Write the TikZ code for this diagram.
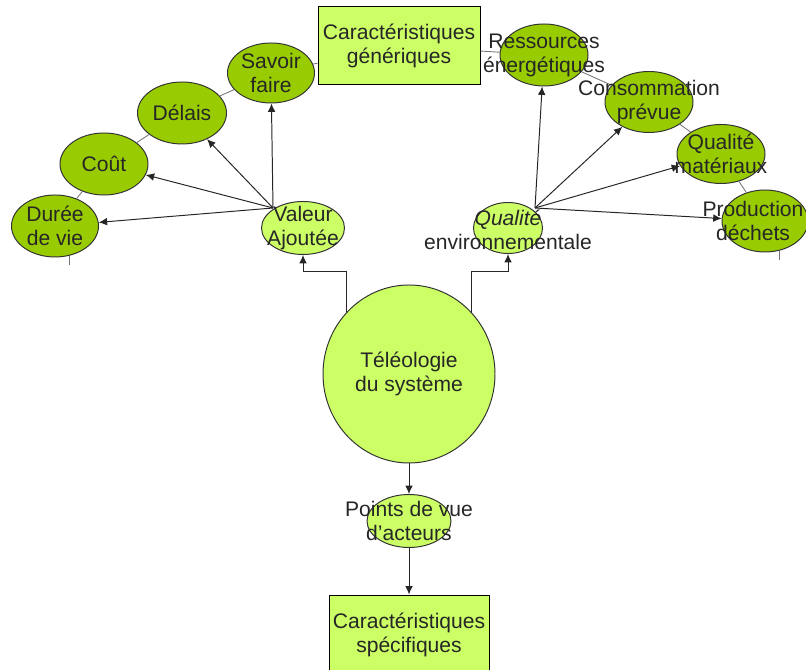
\documentclass[tikz,border=0pt]{standalone}
\usepackage{fontspec}
\setmainfont{Liberation Sans}
\usetikzlibrary{shapes.geometric,arrows.meta}
\definecolor{vertfonce}{HTML}{99CC00}
\definecolor{vertclair}{HTML}{CCFF66}
\definecolor{trait}{HTML}{333333}
\tikzset{
  ovale/.style={ellipse, draw=trait, line width=0.7pt, fill=vertfonce, inner sep=0pt},
  ovaleclair/.style={ovale, fill=vertclair},
  boite/.style={rectangle, draw=black, line width=0.7pt, fill=vertclair, inner sep=0pt},
  txt/.style={align=center, text=black!85, font=\fontsize{15}{17}\selectfont},
  lien/.style={draw=black!55, line width=0.6pt},
  fleche/.style={->, draw=black!85, line width=0.7pt}
}

\begin{document}
\begin{tikzpicture}[>={Latex[length=6pt,width=5.5pt]}]
    \useasboundingbox (0,0) rectangle (20.15cm,16.75cm);
    % formes
    \node[boite, minimum width=4.05cm, minimum height=1.95cm] (gen) at (9.975cm,15.6cm) {};
    \node[ovale, minimum width=2.175cm, minimum height=1.5cm] (savoir) at (6.775cm,14.925cm) {};
    \node[ovale, minimum width=2.225cm, minimum height=1.55cm] (delais) at (4.55cm,13.925cm) {};
    \node[ovale, minimum width=2.2cm, minimum height=1.55cm] (cout) at (2.6cm,12.65cm) {};
    \node[ovale, minimum width=2.175cm, minimum height=1.55cm] (duree) at (1.375cm,11.1cm) {};
    \node[ovaleclair, minimum width=2.075cm, minimum height=1.325cm] (valeur) at (7.575cm,11.05cm) {};
    \node[ovale, minimum width=2.2cm, minimum height=1.55cm] (ress) at (13.6cm,15.375cm) {};
    \node[ovale, minimum width=2.2cm, minimum height=1.525cm] (conso) at (16.225cm,14.2cm) {};
    \node[ovale, minimum width=2.2cm, minimum height=1.475cm] (qualmat) at (18.025cm,12.9cm) {};
    \node[ovale, minimum width=2.15cm, minimum height=1.55cm] (prod) at (19.125cm,11.225cm) {};
    \node[ovaleclair, minimum width=1.725cm, minimum height=1.275cm] (qualenv) at (12.7cm,11.05cm) {};
    \node[ovaleclair, minimum width=4.3cm, minimum height=4.45cm] (teleo) at (10.225cm,7.4cm) {};
    \node[ovaleclair, minimum width=2.1cm, minimum height=1.325cm] (points) at (10.225cm,3.725cm) {};
    \node[boite, minimum width=4cm, minimum height=2cm] (spec) at (10.225cm,0.875cm) {};

    % liens gris
    \draw[lien] (gen) -- (savoir);
    \draw[lien] (savoir) -- (delais);
    \draw[lien] (delais) -- (cout);
    \draw[lien] (cout) -- (duree);
    \draw[lien] (gen) -- (ress);
    \draw[lien] (ress) -- (conso);
    \draw[lien] (conso) -- (qualmat);
    \draw[lien] (qualmat) -- (prod);
    \draw[lien] (duree.-65) -- ++(0,-0.22cm);
    \draw[lien] (prod.-65) -- ++(0,-0.22cm);

    % fleches
    \coordinate (vahub) at (6.825cm,11.55cm);
    \coordinate (qehub) at (13.375cm,11.55cm);
    \foreach \cible in {savoir,delais,cout,duree}
        \draw[fleche] (vahub) -- (\cible);
    \foreach \cible in {ress,conso,qualmat,prod}
        \draw[fleche] (qehub) -- (\cible);
    \draw[fleche] (teleo.135) -- ++(0,1cm) -| (valeur.south);
    \draw[fleche] (teleo.45) -- ++(0,1cm) -| (qualenv.south);
    \draw[fleche] (teleo) -- (points);
    \draw[fleche] (points) -- (spec);

    % textes
    \node[txt] (gen-t) at (gen) {Caractéristiques\\génériques};
    \node[txt] (savoir-t) at (savoir) {Savoir\\faire};
    \node[txt] (delais-t) at (delais) {Délais};
    \node[txt] (cout-t) at (cout) {Coût};
    \node[txt] (duree-t) at (duree) {Durée\\de vie};
    \node[txt] (valeur-t) at (valeur) {Valeur\\Ajoutée};
    \node[txt] (ress-t) at (ress) {Ressources\\énergétiques};
    \node[txt] (conso-t) at (conso) {Consommation\\prévue};
    \node[txt] (qualmat-t) at (qualmat) {Qualité\\matériaux};
    \node[txt] (prod-t) at ([xshift=-0.3cm]prod) {Production\\déchets};
    \node[txt] (qualenv-t) at ([yshift=-0.05cm]qualenv) {{\itshape Qualité}\\environnementale};
    \node[txt] (teleo-t) at (teleo) {Téléologie\\du système};
    \node[txt] (points-t) at (points) {Points de vue\\d'acteurs};
    \node[txt] (spec-t) at (spec) {Caractéristiques\\spécifiques};
\end{tikzpicture}
\end{document}
